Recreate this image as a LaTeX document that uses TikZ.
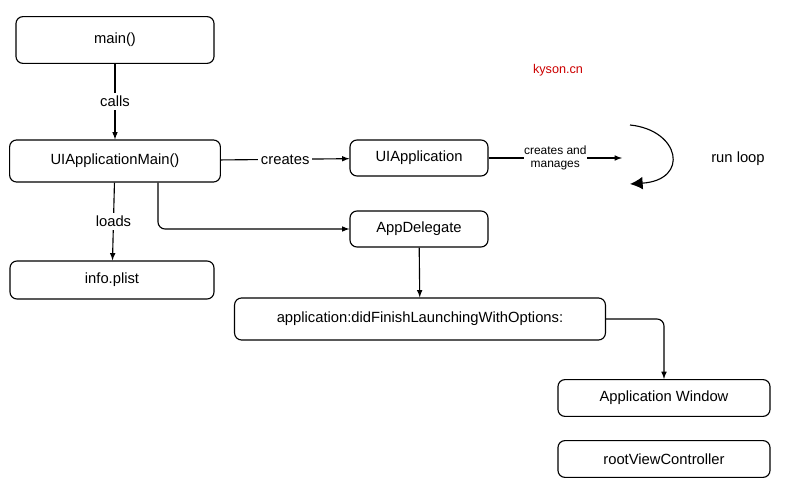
\documentclass[tikz,border=0pt]{standalone}
\usepackage{fontspec}
\setmainfont{Liberation Sans}
\usetikzlibrary{positioning,arrows.meta}
\begin{document}
\begin{tikzpicture}[>=latex, x=0.025cm, y=-0.025cm]
    % ===================================
    % 設定
    % ===================================
    \def\fs{\fontsize{10.5}{12}\selectfont} % 基本の文字
    \tikzset{box/.style={draw, thick, rounded corners=5pt, minimum height=0.95cm, font=\fs},
             lbl/.style={fill=white, inner sep=2pt, font=\fs},
             line/.style={thick, ->}}
    % ===================================
    \useasboundingbox (0,0) rectangle (791,497);

    % 1. ノードの配置
    \node[box, minimum width=4.95cm, minimum height=1.17cm] (main) at (115,40) {main()};
    \node[box, minimum width=5.27cm, minimum height=1.05cm] (uimain) at (115,161) {UIApplicationMain()};
    \node[box, minimum width=5.1cm] (plist) at (112,280) {info.plist};
    \node[box, minimum width=3.45cm, minimum height=0.9cm] (uiapp) at (419,158) {UIApplication};
    \node[box, minimum width=3.45cm, minimum height=0.9cm] (delegate) at (419,229) {AppDelegate};
    \node[box, minimum width=9.27cm, minimum height=1.05cm] (launch) at (420,319) {application:didFinishLaunchingWithOptions:};
    \node[box, minimum width=5.3cm, minimum height=0.92cm] (window) at (664,398) {Application Window};
    \node[box, minimum width=5.3cm, minimum height=0.92cm] (root) at (664,459) {rootViewController};
    \node[font=\fontsize{9}{10}\selectfont, text=red!80!black] (site) at (558,70) {kyson.cn};
    \node[font=\fs] (loop) at (738,159) {run loop};
    \coordinate (loopin) at (622,158);

    % 2. 矢印の描画
    \draw[line] (main) -- node[lbl] {calls} (uimain);
    \draw[line] (uimain) -- node[lbl] {loads} (plist);
    \draw[line] (uimain) -- node[lbl] {creates} (uiapp);
    \draw[line] (uiapp) -- node[lbl, font=\fontsize{8.5}{9}\selectfont, align=center, inner sep=0pt] {creates and\\manages} (loopin);
    \draw[line, rounded corners=5pt] (uimain.south -| 158,0) |- (delegate);
    \draw[line] (delegate) -- (launch);
    \draw[line, rounded corners=5pt] (launch) -| (window);

    % (C) run loop の円弧
    \draw[thick, -{Latex[length=9pt,width=9pt]}] (630,125) .. controls (680,130) and (690,180) .. (630,184);

\end{tikzpicture}
\end{document}
